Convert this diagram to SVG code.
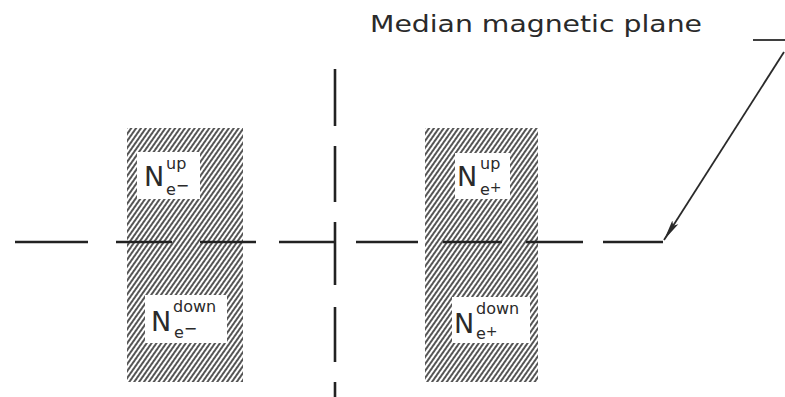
<svg xmlns="http://www.w3.org/2000/svg" width="785" height="397" viewBox="0 0 785 397">
<style>
.dash{stroke:#222;stroke-width:2.6;fill:none;stroke-linecap:butt}
.lbl{fill:#fff}
.N{font-family:"DejaVu Sans",sans-serif;font-size:27px;fill:#2a2a2a}
.s{font-family:"DejaVu Sans",sans-serif;font-size:16px;fill:#2a2a2a}
.title{font-family:"DejaVu Sans",sans-serif;font-size:23px;fill:#2a2a2a}
.arr{stroke:#2a2a2a;stroke-width:1.8;fill:none}
</style>
<defs>
<pattern id="hatch" width="4" height="10" patternUnits="userSpaceOnUse" patternTransform="rotate(35)">
<rect width="4" height="10" fill="#fff"/>
<line x1="1" y1="0" x2="1" y2="10" stroke="#2a2a2a" stroke-width="1.6"/>
</pattern>
<marker id="ah" markerWidth="22" markerHeight="10" refX="21" refY="5" orient="auto" markerUnits="userSpaceOnUse">
<path d="M0,1.5 L21,5 L0,8.5 L4,5 Z" fill="#2a2a2a"/>
</marker>
</defs>
<rect width="785" height="397" fill="#fff"/>
<text class="title" x="370" y="32" textLength="332" lengthAdjust="spacingAndGlyphs">Median magnetic plane</text>
<g id="box-e-minus">
<rect x="127" y="128" width="116" height="254" fill="url(#hatch)"/>
<g id="N-up-e-minus">
<rect class="lbl" x="137" y="152" width="63" height="47"/>
<text class="N" x="144" y="186">N</text>
<text class="s" x="166" y="169">up</text>
<text class="s" x="166" y="195">e<tspan dy="-4">−</tspan></text>
</g>
<g id="N-down-e-minus">
<rect class="lbl" x="145" y="295" width="82" height="48"/>
<text class="N" x="151" y="331">N</text>
<text class="s" x="173" y="312">down</text>
<text class="s" x="174" y="338">e<tspan dy="-4">−</tspan></text>
</g>
</g>
<g id="box-e-plus">
<rect x="425" y="128" width="113" height="254" fill="url(#hatch)"/>
<g id="N-up-e-plus">
<rect class="lbl" x="455" y="153" width="55" height="46"/>
<text class="N" x="457" y="186">N</text>
<text class="s" x="480" y="169">up</text>
<text class="s" x="480" y="195">e<tspan dy="-3" font-size="14">+</tspan></text>
</g>
<g id="N-down-e-plus">
<rect class="lbl" x="452" y="297" width="78" height="46"/>
<text class="N" x="454" y="333">N</text>
<text class="s" x="476" y="314">down</text>
<text class="s" x="476" y="339">e<tspan dy="-3" font-size="14">+</tspan></text>
</g>
</g>
<g id="connectors">
<g id="median-plane-line">
<line class="dash" x1="15" y1="242" x2="88" y2="242"/>
<line class="dash" x1="116" y1="242" x2="172" y2="242"/>
<line class="dash" x1="200" y1="242" x2="256" y2="242"/>
<line class="dash" x1="279" y1="242" x2="335" y2="242"/>
<line class="dash" x1="356" y1="242" x2="418" y2="242"/>
<line class="dash" x1="443" y1="242" x2="502" y2="242"/>
<line class="dash" x1="526" y1="242" x2="583" y2="242"/>
<line class="dash" x1="603" y1="242" x2="663" y2="242"/>
</g>
<g id="vertical-axis">
<line class="dash" x1="335" y1="69" x2="335" y2="126"/>
<line class="dash" x1="335" y1="146" x2="335" y2="202"/>
<line class="dash" x1="335" y1="222" x2="335" y2="285"/>
<line class="dash" x1="335" y1="307" x2="335" y2="362"/>
<line class="dash" x1="335" y1="382" x2="335" y2="397"/>
</g>
<g id="pointer">
<line class="arr" x1="753" y1="40" x2="785" y2="40"/>
<line class="arr" x1="784" y1="52" x2="664" y2="240" marker-end="url(#ah)"/>
</g>
</g>
</svg>
